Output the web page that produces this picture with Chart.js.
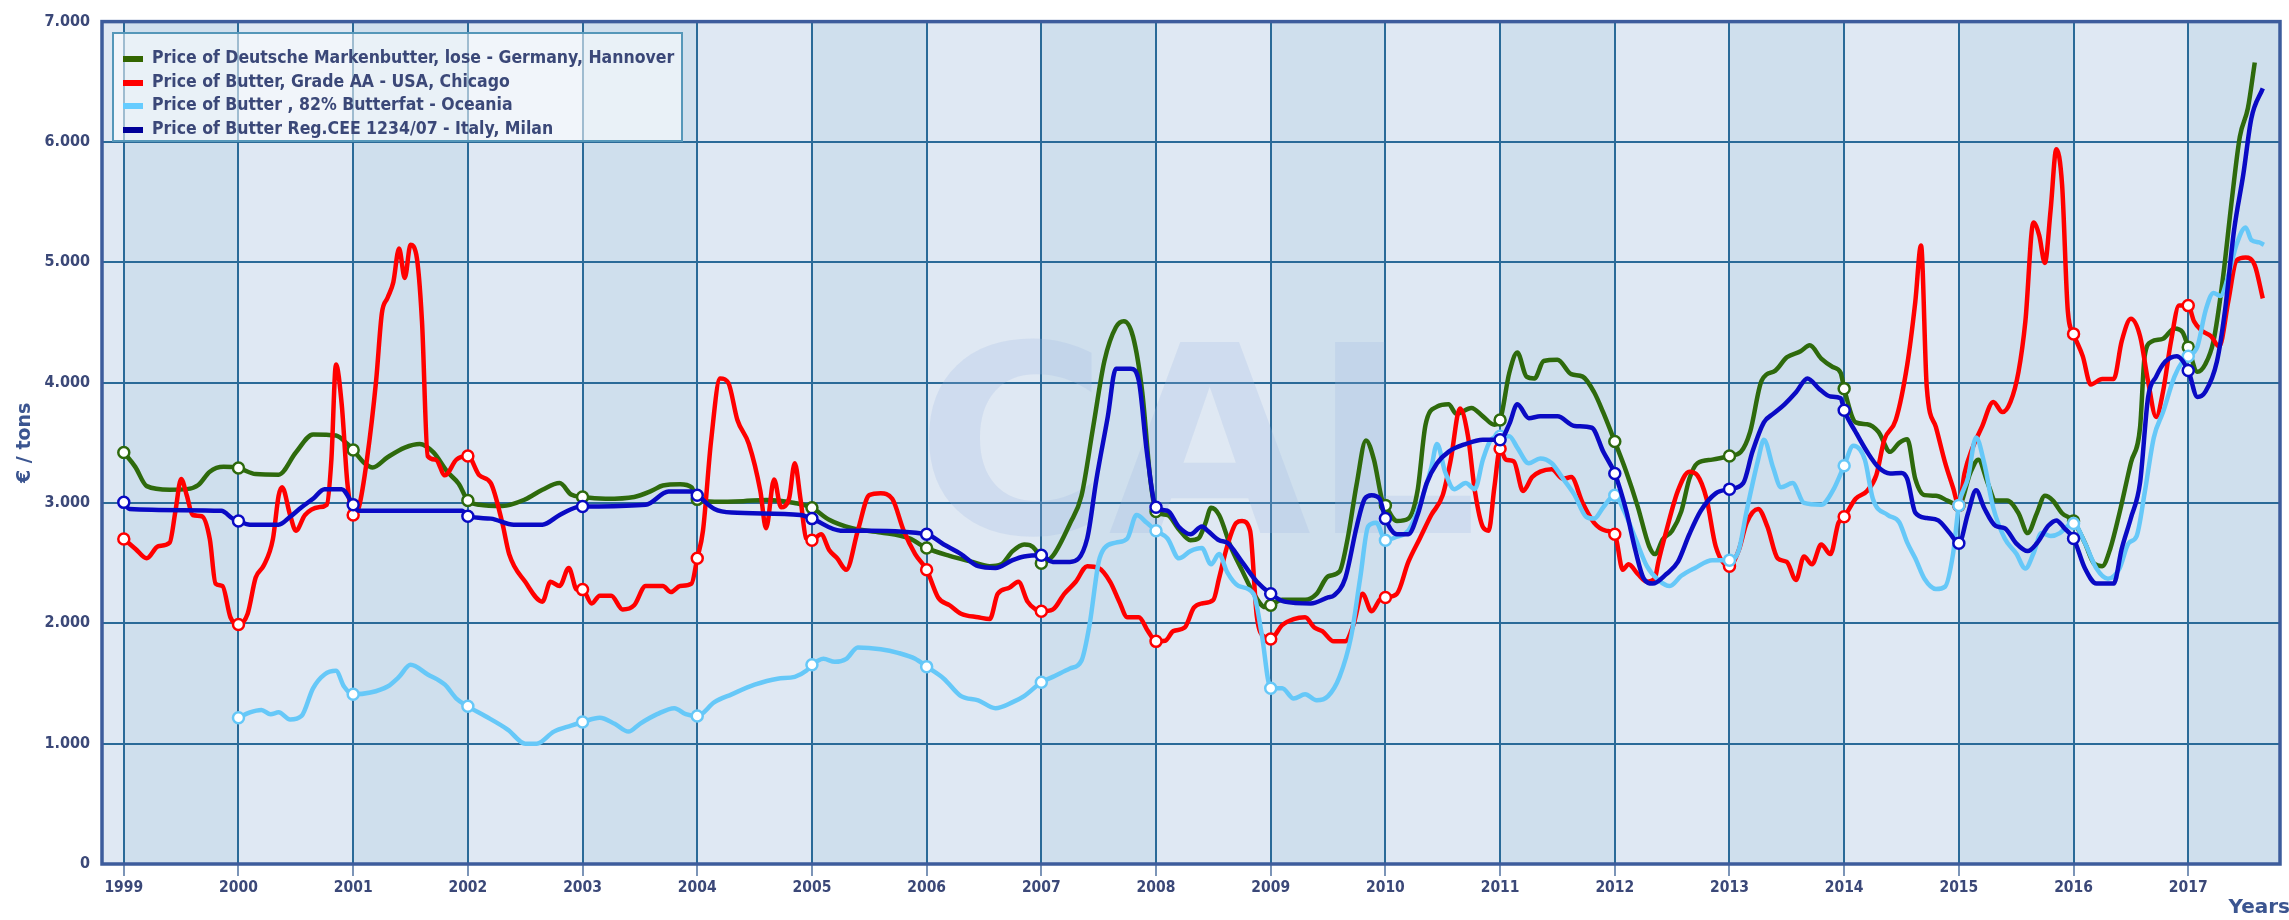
<!DOCTYPE html>
<html>
<head>
<meta charset="utf-8">
<script src="https://cdn.jsdelivr.net/npm/chart.js@4"></script>
<style>
  html, body { margin: 0; padding: 0; background: #ffffff; overflow: hidden; }
  #wrap { position: relative; width: 2289px; height: 920px; }
  canvas { display: block; }
  #legend { position: absolute; left: 112px; top: 32px; width: 571px; height: 110px; box-sizing: border-box;
    border: 2px solid #5597b9; background: rgba(255,255,255,0.55); }
  #legend .row { position: absolute; left: 0; height: 24px; line-height: 24px; white-space: nowrap;
    font: bold 17.5px 'DejaVu Sans Condensed', 'DejaVu Sans', sans-serif; color: #3b4878; }
  #legend .sw { position: absolute; left: 9px; top: 9px; width: 20px; height: 6px; }
  #legend .tx { position: absolute; left: 38px; top: 0; }
</style>
</head>
<body>
<div id="wrap">
  <canvas id="c" width="2289" height="920"></canvas>
  <div id="legend"></div>
</div>
<script>
// years shown on the x axis
const yearTicks = [1999, 2000, 2001, 2002, 2003, 2004, 2005, 2006, 2007, 2008, 2009,
  2010, 2011, 2012, 2013, 2014, 2015, 2016, 2017];

const seriesNames = [
  'Price of Deutsche Markenbutter, lose - Germany, Hannover',
  'Price of Butter, Grade AA - USA, Chicago',
  'Price of Butter , 82% Butterfat - Oceania',
  'Price of Butter Reg.CEE 1234/07 - Italy, Milan'
];
const seriesColors = ['#2e6a0c', '#ff0000', '#66c8f8', '#0a0ac4'];
const legendColors = ['#336600', '#ff0000', '#66ccff', '#000099'];

// [year, €/ton]
const germany = [
  [1999, 3420], [1999.1, 3300], [1999.2, 3140], [1999.4, 3110], [1999.55, 3115], [1999.65, 3150],
  [1999.75, 3260], [1999.87, 3300], [2000, 3290], [2000.15, 3240], [2000.35, 3235], [2000.5, 3420],
  [2000.65, 3570], [2000.85, 3560], [2000.95, 3490], [2001, 3440], [2001.1, 3330], [2001.17, 3295],
  [2001.3, 3380], [2001.45, 3460], [2001.58, 3490], [2001.7, 3420], [2001.82, 3260], [2001.92, 3160],
  [2002, 3020], [2002.1, 2985], [2002.3, 2975], [2002.5, 3030], [2002.65, 3110], [2002.8, 3165],
  [2002.9, 3070], [2003, 3050], [2003.2, 3035], [2003.45, 3050], [2003.6, 3100], [2003.7, 3145],
  [2003.85, 3155], [2003.95, 3130], [2004, 3030], [2004.15, 3010], [2004.4, 3015], [2004.6, 3025],
  [2004.85, 3000], [2005, 2960], [2005.15, 2860], [2005.35, 2790], [2005.6, 2755], [2005.85, 2705],
  [2006, 2625], [2006.2, 2560], [2006.4, 2510], [2006.55, 2475], [2006.65, 2490], [2006.75, 2600],
  [2006.85, 2655], [2006.95, 2610], [2007, 2500], [2007.1, 2560], [2007.25, 2830], [2007.35, 3060],
  [2007.45, 3620], [2007.55, 4180], [2007.65, 4460], [2007.72, 4510], [2007.8, 4380], [2007.88, 3920],
  [2007.95, 3200], [2008, 2930], [2008.1, 2900], [2008.2, 2780], [2008.3, 2690], [2008.37, 2705],
  [2008.43, 2830], [2008.48, 2960], [2008.55, 2900], [2008.65, 2640], [2008.75, 2440], [2008.85, 2250],
  [2008.95, 2135], [2009, 2150], [2009.1, 2195], [2009.3, 2195], [2009.4, 2245], [2009.5, 2390],
  [2009.6, 2430], [2009.67, 2700], [2009.75, 3160], [2009.83, 3520], [2009.9, 3360], [2009.97, 3030],
  [2010, 2980], [2010.1, 2850], [2010.2, 2870], [2010.28, 3100], [2010.35, 3650], [2010.45, 3800],
  [2010.55, 3820], [2010.62, 3740], [2010.75, 3790], [2010.85, 3720], [2010.95, 3650], [2011, 3690],
  [2011.08, 4080], [2011.15, 4250], [2011.23, 4050], [2011.3, 4035], [2011.38, 4180], [2011.5, 4190],
  [2011.62, 4070], [2011.72, 4050], [2011.82, 3920], [2011.9, 3750], [2012, 3510], [2012.1, 3260],
  [2012.2, 2970], [2012.3, 2640], [2012.35, 2575], [2012.42, 2700], [2012.5, 2770], [2012.58, 2930],
  [2012.65, 3200], [2012.72, 3330], [2012.85, 3360], [2013, 3390], [2013.1, 3425], [2013.18, 3590],
  [2013.28, 4015], [2013.4, 4100], [2013.5, 4210], [2013.62, 4260], [2013.7, 4310], [2013.8, 4200],
  [2013.9, 4130], [2013.97, 4080], [2014, 3950], [2014.1, 3670], [2014.2, 3655], [2014.3, 3590],
  [2014.4, 3425], [2014.48, 3500], [2014.55, 3530], [2014.62, 3200], [2014.7, 3065], [2014.8, 3060],
  [2014.9, 3020], [2015, 2980], [2015.1, 3250], [2015.17, 3360], [2015.25, 3170], [2015.32, 3020],
  [2015.42, 3020], [2015.52, 2915], [2015.6, 2750], [2015.68, 2915], [2015.75, 3060], [2015.82, 3020],
  [2015.9, 2915], [2016, 2850], [2016.1, 2665], [2016.18, 2495], [2016.25, 2475], [2016.32, 2620],
  [2016.4, 2915], [2016.5, 3335], [2016.58, 3630], [2016.62, 4220], [2016.68, 4340], [2016.78, 4365],
  [2016.88, 4450], [2016.95, 4420], [2017, 4295], [2017.08, 4090], [2017.15, 4155], [2017.22, 4345],
  [2017.3, 4850], [2017.38, 5520], [2017.45, 6045], [2017.52, 6280], [2017.58, 6660]
];

const usa = [
  [1999, 2700], [1999.1, 2620], [1999.2, 2540], [1999.3, 2640], [1999.4, 2670], [1999.45, 2930],
  [1999.5, 3200], [1999.55, 3060], [1999.6, 2900], [1999.68, 2890], [1999.75, 2700], [1999.8, 2330],
  [1999.86, 2310], [1999.93, 2050], [2000, 1990], [2000.08, 2080], [2000.15, 2380], [2000.22, 2480],
  [2000.3, 2700], [2000.35, 3060], [2000.38, 3130], [2000.45, 2900], [2000.5, 2770], [2000.58, 2900],
  [2000.7, 2965], [2000.77, 2985], [2000.81, 3360], [2000.85, 4150], [2000.9, 3820], [2000.95, 3160],
  [2001, 2900], [2001.05, 2965], [2001.12, 3360], [2001.2, 4015], [2001.25, 4575], [2001.3, 4705],
  [2001.35, 4835], [2001.4, 5115], [2001.45, 4870], [2001.5, 5145], [2001.55, 5065], [2001.6, 4510],
  [2001.65, 3390], [2001.72, 3360], [2001.8, 3230], [2001.9, 3360], [2002, 3390], [2002.1, 3230],
  [2002.2, 3165], [2002.3, 2835], [2002.36, 2575], [2002.5, 2345], [2002.65, 2180], [2002.72, 2345],
  [2002.8, 2310], [2002.88, 2460], [2002.95, 2280], [2003, 2280], [2003.08, 2165], [2003.15, 2230],
  [2003.25, 2230], [2003.35, 2115], [2003.45, 2150], [2003.55, 2310], [2003.7, 2310], [2003.77, 2260],
  [2003.85, 2310], [2003.95, 2330], [2004, 2540], [2004.05, 2770], [2004.12, 3510], [2004.2, 4035],
  [2004.27, 4000], [2004.35, 3690], [2004.45, 3490], [2004.55, 3100], [2004.6, 2790], [2004.67, 3195],
  [2004.73, 2965], [2004.8, 3035], [2004.85, 3330], [2004.9, 3035], [2004.95, 2705], [2005, 2690],
  [2005.08, 2740], [2005.15, 2610], [2005.22, 2540], [2005.3, 2445], [2005.4, 2770], [2005.5, 3065],
  [2005.6, 3080], [2005.7, 3035], [2005.8, 2770], [2005.9, 2575], [2006, 2445], [2006.1, 2215],
  [2006.2, 2150], [2006.3, 2080], [2006.45, 2050], [2006.55, 2035], [2006.62, 2245], [2006.72, 2295],
  [2006.8, 2345], [2006.88, 2180], [2006.95, 2115], [2007, 2100], [2007.1, 2115], [2007.2, 2245],
  [2007.3, 2345], [2007.4, 2475], [2007.5, 2460], [2007.6, 2345], [2007.68, 2180], [2007.75, 2050],
  [2007.85, 2050], [2007.93, 1935], [2008, 1850], [2008.08, 1855], [2008.15, 1935], [2008.25, 1965],
  [2008.33, 2130], [2008.4, 2165], [2008.5, 2195], [2008.55, 2375], [2008.62, 2640], [2008.7, 2835],
  [2008.75, 2850], [2008.82, 2770], [2008.88, 2050], [2008.95, 1885], [2009, 1870], [2009.1, 1985],
  [2009.2, 2035], [2009.3, 2050], [2009.38, 1965], [2009.45, 1935], [2009.55, 1850], [2009.65, 1850],
  [2009.72, 1985], [2009.8, 2245], [2009.88, 2100], [2009.95, 2195], [2010, 2215], [2010.1, 2245],
  [2010.2, 2510], [2010.3, 2705], [2010.4, 2900], [2010.5, 3065], [2010.57, 3360], [2010.65, 3785],
  [2010.72, 3555], [2010.78, 3100], [2010.85, 2800], [2010.9, 2770], [2010.95, 3130], [2011, 3450],
  [2011.05, 3360], [2011.12, 3345], [2011.2, 3100], [2011.28, 3215], [2011.35, 3260], [2011.45, 3280],
  [2011.55, 3200], [2011.62, 3215], [2011.72, 3000], [2011.82, 2835], [2011.92, 2770], [2012, 2740],
  [2012.07, 2445], [2012.12, 2490], [2012.2, 2410], [2012.28, 2345], [2012.35, 2375], [2012.38, 2510],
  [2012.45, 2770], [2012.55, 3100], [2012.65, 3260], [2012.72, 3230], [2012.8, 3035], [2012.88, 2640],
  [2013, 2475], [2013.08, 2605], [2013.15, 2835], [2013.25, 2950], [2013.33, 2805], [2013.42, 2540],
  [2013.5, 2510], [2013.58, 2360], [2013.65, 2555], [2013.72, 2490], [2013.8, 2655], [2013.88, 2575],
  [2013.95, 2835], [2014, 2885], [2014.1, 3035], [2014.2, 3100], [2014.28, 3230], [2014.35, 3525],
  [2014.45, 3690], [2014.55, 4150], [2014.62, 4670], [2014.67, 5140], [2014.72, 3965], [2014.8, 3630],
  [2014.88, 3335], [2014.95, 3125], [2015, 2980], [2015.05, 3250], [2015.12, 3460], [2015.2, 3630],
  [2015.3, 3840], [2015.38, 3755], [2015.45, 3840], [2015.52, 4090], [2015.58, 4510], [2015.65, 5330],
  [2015.7, 5225], [2015.75, 4995], [2015.8, 5435], [2015.85, 5940], [2015.9, 5645], [2015.95, 4595],
  [2016, 4405], [2016.08, 4220], [2016.15, 3985], [2016.25, 4030], [2016.35, 4030], [2016.42, 4345],
  [2016.5, 4530], [2016.58, 4385], [2016.65, 4010], [2016.72, 3715], [2016.78, 3925], [2016.85, 4345],
  [2016.92, 4640], [2017, 4640], [2017.05, 4510], [2017.12, 4430], [2017.2, 4385], [2017.27, 4300],
  [2017.35, 4680], [2017.42, 5015], [2017.5, 5040], [2017.58, 4975], [2017.65, 4700]
];

const oceania = [
  [2000, 1215], [2000.1, 1260], [2000.2, 1280], [2000.28, 1245], [2000.35, 1260], [2000.45, 1200],
  [2000.55, 1230], [2000.65, 1460], [2000.75, 1575], [2000.85, 1605], [2000.92, 1475], [2001, 1410],
  [2001.15, 1425], [2001.3, 1475], [2001.4, 1555], [2001.5, 1655], [2001.65, 1575], [2001.8, 1490],
  [2001.9, 1375], [2002, 1310], [2002.15, 1230], [2002.35, 1115], [2002.5, 1000], [2002.6, 1000],
  [2002.75, 1100], [2002.9, 1150], [2003, 1180], [2003.15, 1215], [2003.28, 1165], [2003.4, 1100],
  [2003.5, 1165], [2003.65, 1245], [2003.8, 1295], [2003.9, 1245], [2004, 1230], [2004.15, 1345],
  [2004.3, 1410], [2004.5, 1490], [2004.7, 1540], [2004.85, 1555], [2004.95, 1605], [2005, 1655],
  [2005.1, 1705], [2005.2, 1680], [2005.3, 1705], [2005.4, 1800], [2005.6, 1785], [2005.75, 1755],
  [2005.9, 1705], [2006, 1640], [2006.15, 1540], [2006.3, 1395], [2006.45, 1360], [2006.6, 1295],
  [2006.75, 1345], [2006.85, 1395], [2007, 1510], [2007.1, 1555], [2007.25, 1625], [2007.35, 1690],
  [2007.42, 1985], [2007.5, 2510], [2007.55, 2625], [2007.65, 2670], [2007.75, 2705], [2007.83, 2900],
  [2007.92, 2835], [2008, 2770], [2008.1, 2705], [2008.2, 2540], [2008.3, 2600], [2008.4, 2625],
  [2008.48, 2490], [2008.55, 2575], [2008.62, 2425], [2008.72, 2310], [2008.85, 2245], [2008.92, 1920],
  [2009, 1460], [2009.1, 1460], [2009.2, 1375], [2009.3, 1410], [2009.4, 1360], [2009.5, 1395],
  [2009.6, 1555], [2009.7, 1885], [2009.78, 2375], [2009.85, 2805], [2009.92, 2835], [2010, 2690],
  [2010.1, 2720], [2010.2, 2770], [2010.3, 2985], [2010.4, 3295], [2010.45, 3490], [2010.52, 3260],
  [2010.6, 3115], [2010.7, 3165], [2010.78, 3115], [2010.85, 3360], [2010.92, 3525], [2011, 3555],
  [2011.08, 3555], [2011.15, 3460], [2011.25, 3330], [2011.35, 3370], [2011.45, 3330], [2011.55, 3200],
  [2011.65, 3065], [2011.75, 2885], [2011.82, 2870], [2011.9, 2965], [2012, 3065], [2012.08, 2935],
  [2012.18, 2705], [2012.28, 2475], [2012.38, 2360], [2012.48, 2310], [2012.58, 2395], [2012.7, 2460],
  [2012.85, 2525], [2013, 2525], [2013.08, 2605], [2013.15, 2935], [2013.25, 3360], [2013.3, 3525],
  [2013.38, 3295], [2013.45, 3130], [2013.55, 3165], [2013.65, 3000], [2013.8, 2985], [2013.9, 3100],
  [2014, 3310], [2014.08, 3475], [2014.18, 3360], [2014.25, 3035], [2014.38, 2900], [2014.48, 2840],
  [2014.55, 2670], [2014.62, 2540], [2014.7, 2370], [2014.8, 2285], [2014.88, 2305], [2014.95, 2580],
  [2015, 2980], [2015.08, 3210], [2015.15, 3545], [2015.22, 3335], [2015.3, 2960], [2015.4, 2705],
  [2015.5, 2580], [2015.58, 2455], [2015.65, 2580], [2015.72, 2750], [2015.8, 2725], [2015.88, 2750],
  [2015.95, 2810], [2016, 2830], [2016.1, 2665], [2016.2, 2455], [2016.3, 2370], [2016.4, 2455],
  [2016.48, 2665], [2016.55, 2725], [2016.62, 3085], [2016.7, 3545], [2016.78, 3755], [2016.88, 4050],
  [2016.95, 4175], [2017, 4220], [2017.08, 4300], [2017.15, 4595], [2017.22, 4745], [2017.28, 4720],
  [2017.35, 4890], [2017.42, 5145], [2017.5, 5290], [2017.55, 5185], [2017.62, 5165], [2017.66, 5145]
];

const italy = [
  [1999, 3005], [1999.05, 2950], [1999.85, 2935], [1999.95, 2870], [2000, 2850], [2000.1, 2820],
  [2000.35, 2820], [2000.45, 2885], [2000.55, 2965], [2000.65, 3035], [2000.75, 3115], [2000.9, 3115],
  [2001, 2985], [2001.05, 2935], [2001.95, 2935], [2002, 2890], [2002.2, 2870], [2002.4, 2820],
  [2002.65, 2820], [2002.8, 2900], [2002.95, 2965], [2003, 2970], [2003.55, 2985], [2003.75, 3095],
  [2003.95, 3095], [2004, 3065], [2004.15, 2950], [2004.3, 2920], [2004.9, 2900], [2005, 2870],
  [2005.25, 2770], [2005.5, 2770], [2006, 2740], [2006.15, 2655], [2006.3, 2575], [2006.45, 2475],
  [2006.6, 2460], [2006.75, 2525], [2006.85, 2555], [2007, 2565], [2007.1, 2510], [2007.25, 2510],
  [2007.4, 2705], [2007.48, 3195], [2007.58, 3720], [2007.65, 4115], [2007.78, 4115], [2007.85, 4015],
  [2007.92, 3425], [2008, 2965], [2008.1, 2935], [2008.2, 2800], [2008.3, 2740], [2008.4, 2805],
  [2008.45, 2770], [2008.55, 2690], [2008.62, 2670], [2008.75, 2510], [2008.88, 2345], [2009, 2245],
  [2009.12, 2180], [2009.35, 2165], [2009.5, 2215], [2009.55, 2230], [2009.65, 2375], [2009.75, 2805],
  [2009.82, 3035], [2009.88, 3065], [2009.95, 3035], [2010, 2870], [2010.1, 2740], [2010.2, 2740],
  [2010.28, 2900], [2010.36, 3165], [2010.45, 3330], [2010.55, 3425], [2010.7, 3490], [2010.85, 3525],
  [2011, 3525], [2011.08, 3655], [2011.15, 3820], [2011.25, 3705], [2011.35, 3720], [2011.5, 3720],
  [2011.65, 3640], [2011.8, 3625], [2011.9, 3425], [2012, 3245], [2012.1, 2935], [2012.18, 2605],
  [2012.25, 2375], [2012.33, 2330], [2012.45, 2410], [2012.55, 2510], [2012.65, 2740], [2012.75, 2935],
  [2012.88, 3080], [2013, 3115], [2013.12, 3165], [2013.2, 3425], [2013.3, 3670], [2013.38, 3740],
  [2013.48, 3820], [2013.58, 3920], [2013.68, 4035], [2013.78, 3950], [2013.88, 3885], [2013.97, 3870],
  [2014, 3770], [2014.1, 3590], [2014.2, 3425], [2014.3, 3295], [2014.4, 3245], [2014.5, 3250],
  [2014.55, 3200], [2014.62, 2920], [2014.72, 2875], [2014.82, 2855], [2014.92, 2750], [2015, 2665],
  [2015.08, 2915], [2015.15, 3105], [2015.22, 2960], [2015.32, 2810], [2015.4, 2790], [2015.5, 2665],
  [2015.6, 2600], [2015.68, 2665], [2015.78, 2810], [2015.85, 2855], [2015.92, 2790], [2016, 2705],
  [2016.1, 2455], [2016.2, 2330], [2016.35, 2330], [2016.42, 2620], [2016.5, 2875], [2016.58, 3170],
  [2016.65, 3880], [2016.72, 4050], [2016.8, 4175], [2016.9, 4220], [2017, 4100], [2017.08, 3880],
  [2017.15, 3925], [2017.25, 4175], [2017.32, 4595], [2017.4, 5270], [2017.48, 5730], [2017.55, 6195],
  [2017.65, 6445]
];

const allSeries = [germany, usa, oceania, italy];

const tickFont = { family: "'DejaVu Sans Condensed', 'DejaVu Sans', sans-serif", size: 16, weight: 'bold' };
const tickColor = '#3b4878';
const gridColor = '#2a6a98';

// alternating yearly bands behind the grid
const bandPlugin = {
  id: 'bands',
  beforeDraw(chart) {
    const { ctx, chartArea: a, scales: { x } } = chart;
    ctx.save();
    ctx.fillStyle = '#dfe8f3';
    ctx.fillRect(a.left, a.top, a.right - a.left, a.bottom - a.top);
    ctx.fillStyle = '#cfdfed';
    yearTicks.forEach((yr, i) => {
      if (i % 2) return;
      const x0 = x.getPixelForValue(yr);
      const x1 = Math.min(x.getPixelForValue(yr + 1), a.right);
      ctx.fillRect(x0, a.top, x1 - x0, a.bottom - a.top);
    });
    ctx.restore();
  },
  beforeDatasetsDraw(chart) {
    // faint watermark
    const { ctx } = chart;
    ctx.save();
    ctx.font = "bold 262px 'DejaVu Sans', sans-serif";
    ctx.fillStyle = 'rgba(160,186,224,0.24)';
    ctx.textAlign = 'center';
    ctx.textBaseline = 'alphabetic';
    ctx.fillText('CAL', 1197, 533);
    ctx.restore();
  },
  afterDraw(chart) {
    const { ctx, chartArea: a } = chart;
    ctx.save();
    ctx.strokeStyle = '#3d5c9c';
    ctx.lineWidth = 3.5;
    ctx.strokeRect(a.left, a.top, a.right - a.left, a.bottom - a.top);
    ctx.font = "bold 20px 'DejaVu Sans', sans-serif";
    ctx.fillStyle = '#3b5590';
    ctx.textAlign = 'right';
    ctx.textBaseline = 'middle';
    ctx.fillText('Years', 2290, 908);
    ctx.restore();
  }
};

const datasets = allSeries.map((pts, i) => ({
  label: seriesNames[i],
  data: pts.map(p => ({ x: p[0], y: p[1] })),
  borderColor: seriesColors[i],
  borderWidth: 4.5,
  pointRadius: ctx => (ctx.raw && Number.isInteger(ctx.raw.x)) ? 5.5 : 0,
  pointBackgroundColor: '#ffffff',
  pointBorderColor: seriesColors[i],
  pointBorderWidth: 2.5,
  cubicInterpolationMode: 'monotone',
  fill: false,
  order: 3 - i
}));

new Chart(document.getElementById('c'), {
  type: 'line',
  data: { datasets },
  plugins: [bandPlugin],
  options: {
    responsive: false,
    animation: false,
    devicePixelRatio: 1,
    layout: { padding: { top: 17, right: 9, bottom: 0, left: 0 } },
    plugins: { legend: { display: false }, tooltip: { enabled: false } },
    scales: {
      x: {
        type: 'linear',
        min: 1998.81,
        max: 2017.8,
        afterBuildTicks: s => { s.ticks = yearTicks.map(v => ({ value: v })); },
        afterFit: s => { s.height = 56; },
        grid: { color: gridColor, lineWidth: 2, drawTicks: true, tickLength: 12, tickColor: '#5b7aa6', tickWidth: 1.6 },
        border: { display: false },
        ticks: { autoSkip: false, maxRotation: 0, padding: 3, font: { ...tickFont, size: 15.5 }, color: tickColor, callback: v => String(v) }
      },
      y: {
        min: 0,
        max: 7000,
        afterFit: s => { s.width = 102; },
        grid: { color: gridColor, lineWidth: 2, drawTicks: false },
        border: { display: false },
        ticks: { stepSize: 1000, padding: 12, font: tickFont, color: tickColor,
          callback: v => v === 0 ? '0' : (v / 1000) + '.000' },
        title: { display: true, text: '€ / tons', color: '#3b5590', padding: { top: 14, bottom: 0 },
          font: { family: "'DejaVu Sans', sans-serif", size: 19, weight: 'bold' } }
      }
    }
  }
});

// legend box in the upper left corner
const legend = document.getElementById('legend');
seriesNames.forEach((name, i) => {
  const row = document.createElement('div');
  row.className = 'row';
  row.style.top = (13 + i * 23.5) + 'px';
  row.innerHTML = '<span class="sw" style="background:' + legendColors[i] + '"></span><span class="tx"></span>';
  row.querySelector('.tx').textContent = name;
  legend.appendChild(row);
});
</script>
</body>
</html>
